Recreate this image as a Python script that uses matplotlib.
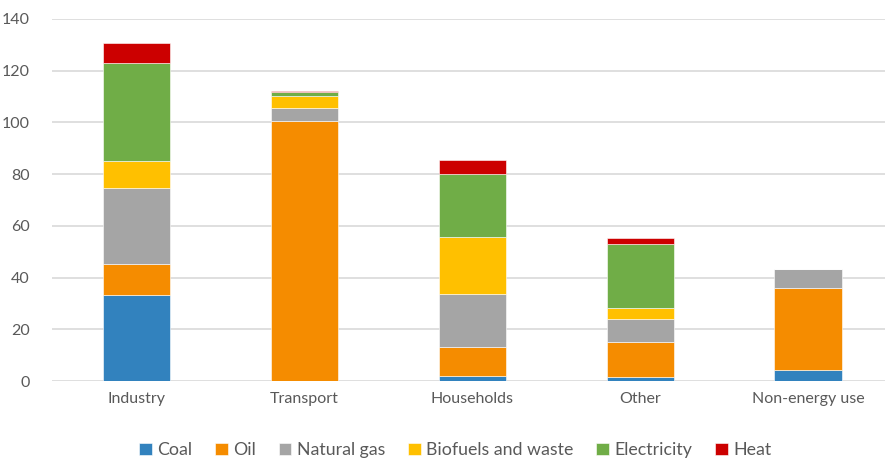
import numpy as np
import matplotlib.pyplot as plt

plt.rcParams['font.family'] = ['Lato', 'DejaVu Sans']

sectors = ["Industry", "Transport", "Households", "Other", "Non-energy use"]
coal = [33.1, 0.0, 1.9, 1.7, 4.4]
oil = [12.2, 100.6, 11.4, 13.3, 31.4]
natural_gas = [29.4, 5.0, 20.4, 9.1, 7.6]
biofuels = [10.4, 4.5, 21.8, 4.1, 0.0]
electricity = [37.8, 1.7, 24.5, 24.7, 0.0]
heat = [7.8, 0.2, 5.3, 2.4, 0.0]

series = [
    ("Coal", coal, "#3282BE"),
    ("Oil", oil, "#F58C00"),
    ("Natural gas", natural_gas, "#A5A5A5"),
    ("Biofuels and waste", biofuels, "#FFC000"),
    ("Electricity", electricity, "#70AD47"),
    ("Heat", heat, "#CC0000"),
]

fig = plt.figure(figsize=(8.85, 4.58), dpi=100)
ax = fig.add_axes([0.059, 0.168, 0.949, 0.791])

x = np.arange(len(sectors))
bottom = np.zeros(len(sectors))
for name, vals, col in series:
    vals = np.array(vals)
    ax.bar(x, vals, 0.4, bottom=bottom, color=col, label=name,
           edgecolor="white", linewidth=0.4, zorder=3)
    bottom += vals

ax.set_xlim(-0.5, len(sectors) - 0.5)
ax.set_ylim(0, 140)
ax.set_yticks(np.arange(0, 141, 20))
ax.set_xticks(x)
ax.set_xticklabels(sectors)
ax.grid(axis="y", color="#D9D9D9", linewidth=1.2, zorder=0)
for s in ax.spines.values():
    s.set_visible(False)
ax.tick_params(length=0, labelsize=11.5, colors="#595959", pad=8)
ax.tick_params(axis="y", pad=16)

ax.legend(loc="upper center", bbox_to_anchor=(0.48, -0.125), ncol=6,
          frameon=False, fontsize=12.8, labelcolor="#595959",
          handlelength=0.7, handleheight=0.7, handletextpad=0.3,
          columnspacing=1.3)

fig.savefig("out.png", dpi=100)
